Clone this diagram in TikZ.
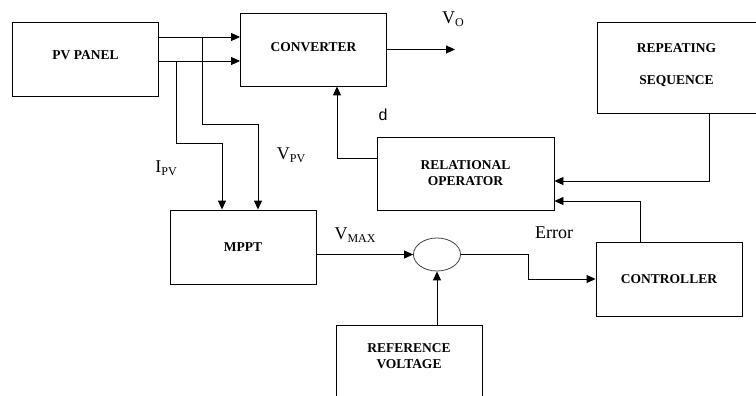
\documentclass[tikz,border=0pt]{standalone}
\usepackage{fontspec}
\setmainfont{Liberation Serif}
\newfontfamily\labfont{Liberation Sans}
\usetikzlibrary{arrows.meta,shapes.geometric}

\tikzset{
  block/.style={draw, line width=0.9pt, minimum width=146pt, minimum height=74pt,
    inner sep=0pt, align=center, font=\fontsize{13.5}{16}\selectfont\bfseries},
  sig/.style={inner sep=0pt, font=\fontsize{18}{18}\selectfont},
  wire/.style={line width=0.9pt},
  flow/.style={wire, -{Triangle[length=9pt,width=8pt]}}
}
\newcommand{\sgl}[2]{#1\raisebox{-0.4ex}{\fontsize{12}{12}\selectfont #2}}

\begin{document}
\begin{tikzpicture}[x=1pt, y=-1pt]
\useasboundingbox (0,0) rectangle (756,396);

                % ==========================================
                % BLOCKS
                % ==========================================

                \node[block] (pv)   at (85.5,59)  {\raisebox{8pt}{PV PANEL}};
                \node[block, minimum height=73pt] (conv) at (313.5,49.5) {\raisebox{4pt}{CONVERTER}};
                \node[block, minimum width=159pt, minimum height=91pt, text depth=6pt] (rep) at (676.5,67.5) {REPEATING\\[16pt]SEQUENCE};
                \node[block, minimum width=177pt, minimum height=73pt] (rel) at (465.5,173.5) {RELATIONAL\\OPERATOR};
                \node[block] (mppt) at (243,247)  {MPPT};
                \node[block] (ctrl) at (669,279)  {CONTROLLER};
                \node[block, text depth=11pt] (ref)  at (409,362)  {REFERENCE\\VOLTAGE};

                % Summing junction
                \node[draw=black!75, ellipse, line width=0.8pt, minimum width=47pt,
                      minimum height=33pt, inner sep=0pt] (sum) at (437,254.5) {};

                % Tap points and free end
                \coordinate (tapV) at (202,37);
                \coordinate (tapI) at (176,61);
                \coordinate (vo)   at (455,49.5);

                % ==========================================
                % CONNECTIONS
                % ==========================================

                % PV panel to converter
                \draw[flow] ([yshift=22pt]pv.east) -- ([yshift=12.5pt]conv.west);
                \draw[flow] ([yshift=-2pt]pv.east) -- ([yshift=-11.5pt]conv.west);

                % Measurements to MPPT
                \draw[flow] (tapV) -- ++(0,87) -| ([xshift=15pt]mppt.north);
                \draw[flow] (tapI) -- ++(0,82) -| ([xshift=-21pt]mppt.north);

                % Converter output
                \draw[flow] (conv.east) -- (vo);

                % Duty cycle back to converter
                \draw[flow] ([yshift=15.5pt]rel.west) -| ([xshift=23.5pt]conv.south);

                % Carrier and control signal into relational operator
                \draw[flow] ([xshift=32.5pt]rep.south) |- ([yshift=-7.5pt]rel.east);
                \draw[flow] ([xshift=-29pt]ctrl.north) |- ([yshift=-27.5pt]rel.east);

                % Error loop
                \draw[flow] ([yshift=-7.5pt]mppt.east) -- (sum.west);
                \draw[flow] (ref.north -| sum.south) -- (sum.south);
                \draw[flow] (sum.east) -- ++(68,0) |- (ctrl.west);

                % ==========================================
                % SIGNAL LABELS
                % ==========================================

                \node[sig] (lvo)   at (453,19)  {\sgl{V}{O}};
                \node[sig, font=\fontsize{16}{16}\selectfont\labfont] (ld) at (383,115) {d};
                \node[sig] (lipv)  at (166,168) {\sgl{I}{PV}};
                \node[sig] (lvpv)  at (291,155) {\sgl{V}{PV}};
                \node[sig] (lvmax) at (355,235) {\sgl{V}{MAX}};
                \node[sig] (lerr)  at (554,233) {Error};

\end{tikzpicture}
\end{document}
